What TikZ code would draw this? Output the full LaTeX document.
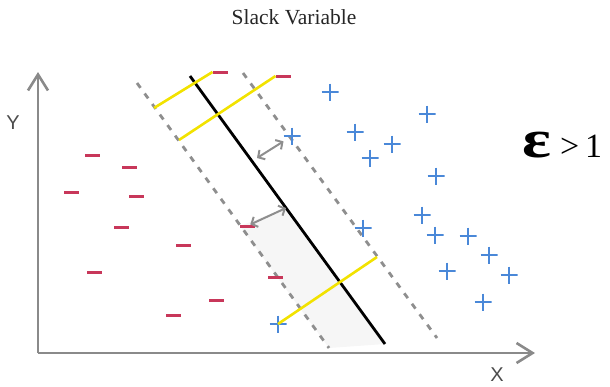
\documentclass[tikz,border=0pt]{standalone}
\usepackage{fontspec}
\setmainfont{Liberation Serif}
\newfontfamily\labsans{Liberation Sans}
\usetikzlibrary{arrows.meta}
\definecolor{mred}{HTML}{C8375A}
\definecolor{mblue}{HTML}{4A88D8}
\definecolor{axgray}{HTML}{8A8A8A}
\definecolor{dgray}{HTML}{8E8E8E}
\definecolor{ylw}{HTML}{F2E200}
\definecolor{shadefill}{HTML}{F6F6F6}
\tikzset{
  minusmark/.style={rectangle, fill=mred, minimum width=15pt, minimum height=3pt, inner sep=0pt, outer sep=0pt},
  plusmark/.style={rectangle, minimum size=17pt, inner sep=0pt, outer sep=0pt,
    path picture={\draw[mblue, line width=2.7pt]
      (path picture bounding box.north) -- (path picture bounding box.south)
      (path picture bounding box.west) -- (path picture bounding box.east);}},
  axisline/.style={draw=axgray, line width=2.8pt, -{Straight Barb[length=16pt,width=20pt,line width=2.6pt]}},
  margin/.style={draw=dgray, line width=2.8pt, dash pattern=on 6pt off 7pt},
  hyper/.style={draw=black, line width=2.8pt},
  slack/.style={draw=ylw, line width=2.6pt},
  gap/.style={draw=dgray, line width=2pt, {Straight Barb[length=5pt,width=11pt,line width=2pt]}-{Straight Barb[length=5pt,width=11pt,line width=2pt]}},
  axlabel/.style={font=\labsans\fontsize{20}{20}\selectfont, text=black!70, inner sep=0pt}
}
\begin{document}
\begin{tikzpicture}[x=1pt,y=-1pt]
\useasboundingbox (0,0) rectangle (610,386);
% title
\node[font=\fontsize{21.5}{21.5}\selectfont, text=black!85] (title) at (294,17) {Slack Variable};
% shaded slack region
\fill[shadefill] (240,226) -- (286,208) -- (385,344) -- (329,348) -- cycle;
% axes
\coordinate (O) at (38,353);
\coordinate (ytip) at (38,72);
\coordinate (xtip) at (535,353);
\draw[axisline] (O) -- (ytip);
\draw[axisline] (O) -- (xtip);
\node[axlabel] (ylab) at (13,123) {Y};
\node[axlabel] (xlab) at (497,375) {X};
% margins and hyperplane
\coordinate (d1a) at (137,83);
\coordinate (d1b) at (329,348);
\coordinate (d2a) at (243,73);
\coordinate (d2b) at (437,338);
\coordinate (h1) at (190,76);
\coordinate (h2) at (385,344);
\draw[margin] (d1a) -- (d1b);
\draw[margin] (d2a) -- (d2b);
\draw[hyper] (h1) -- (h2);
% minus points
\node[minusmark] (m1) at (220,72) {};
\node[minusmark] (m2) at (283,76) {};
\node[minusmark] (m3) at (92,155) {};
\node[minusmark] (m4) at (129,167) {};
\node[minusmark] (m5) at (71,192) {};
\node[minusmark] (m6) at (136,196) {};
\node[minusmark] (m7) at (121,227) {};
\node[minusmark] (m8) at (247,226) {};
\node[minusmark] (m9) at (183,245) {};
\node[minusmark] (m10) at (94,272) {};
\node[minusmark] (m11) at (275,277) {};
\node[minusmark] (m12) at (216,300) {};
\node[minusmark] (m13) at (173,315) {};
% plus points
\node[plusmark] (p1) at (330,92) {};
\node[plusmark] (p2) at (427,114) {};
\node[plusmark] (p3) at (292,136) {};
\node[plusmark] (p4) at (355,132) {};
\node[plusmark] (p5) at (392,144) {};
\node[plusmark] (p6) at (370,158) {};
\node[plusmark] (p7) at (436,176) {};
\node[plusmark] (p8) at (422,215) {};
\node[plusmark] (p9) at (363,228) {};
\node[plusmark] (p10) at (435,235) {};
\node[plusmark] (p11) at (468,236) {};
\node[plusmark] (p12) at (489,255) {};
\node[plusmark] (p13) at (447,271) {};
\node[plusmark] (p14) at (509,275) {};
\node[plusmark] (p15) at (483,302) {};
\node[plusmark] (p16) at (278,324) {};
% slack segments
\coordinate (y1a) at (154,108);
\coordinate (y2a) at (179,140);
\coordinate (y3b) at (377,257);
\draw[slack] (y1a) -- (m1.west);
\draw[slack] (y2a) -- (m2.west);
\draw[slack] (p16.center) -- (y3b);
% margin distance arrows
\coordinate (a1s) at (257,158);
\coordinate (a2e) at (286,208);
\draw[gap] (a1s) -- (p3);
\draw[gap] (m8) -- (a2e);
% epsilon label
\node[anchor=base west, inner sep=0pt] (eps) at (522,157)
  {\scalebox{1.25}[1]{\fontsize{54}{54}\selectfont\bfseries ε}\hspace{9pt}{\fontsize{34}{34}\selectfont >\hspace{6pt}1}};
\end{tikzpicture}
\end{document}
